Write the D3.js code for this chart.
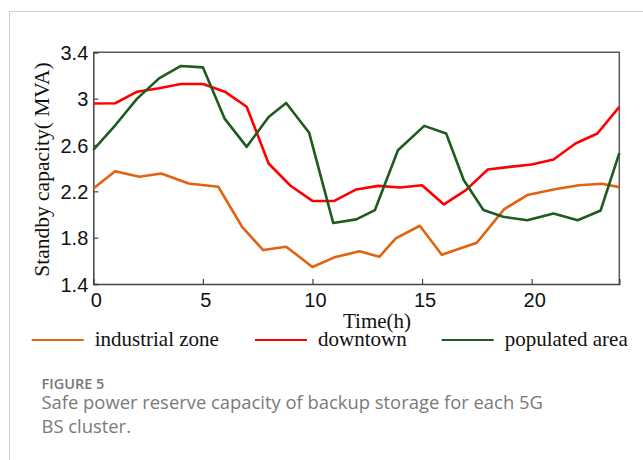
<!DOCTYPE html>
<html>
<head>
<meta charset="utf-8">
<script src="https://cdn.jsdelivr.net/npm/d3@7"></script>
<style>
  html, body { margin: 0; padding: 0; background: #fff; }
  svg { display: block; }
</style>
</head>
<body>
<svg id="chart" width="643" height="460"></svg>
<script>
// ---- data ----
const xTicks = [0, 5, 10, 15, 20];
const yTicks = [1.4, 1.8, 2.2, 2.6, 3.0, 3.4];
const yTickLabels = ["1.4", "1.8", "2.2", "2.6", "3", "3.4"];

const industrialHours  = [0, 1, 2.1, 3.1, 4.35, 5.7, 6.8, 7.75, 8.8, 10, 11, 12.15, 13.05, 13.8, 14.9, 15.9, 17.5, 18.75, 19.8, 21, 22.15, 23.2, 24];
const industrialValues = [2.225, 2.374, 2.325, 2.354, 2.268, 2.24, 1.89, 1.693, 1.722, 1.547, 1.63, 1.682, 1.635, 1.794, 1.903, 1.653, 1.756, 2.046, 2.168, 2.216, 2.253, 2.265, 2.236];

const downtownHours  = [0,1,2,3,4,5,6,7,8,9,10,11,12,13,14,15,16,17,18,19,20,21,22,23,24];
const downtownValues = [2.958, 2.96, 3.06, 3.09, 3.126, 3.126, 3.06, 2.93, 2.44, 2.248, 2.117, 2.117, 2.216, 2.247, 2.233, 2.253, 2.087, 2.21, 2.388, 2.411, 2.431, 2.475, 2.613, 2.699, 2.929];

const populatedHours  = [0, 1, 2, 3, 4, 5, 6, 7, 8, 8.8, 9.85, 10.95, 12, 12.85, 13.9, 15.1, 16.1, 16.9, 17.8, 18.7, 19.8, 21, 22.1, 23.15, 24];
const populatedValues = [2.558, 2.77, 3.0, 3.175, 3.282, 3.27, 2.825, 2.584, 2.842, 2.963, 2.705, 1.926, 1.958, 2.038, 2.555, 2.765, 2.699, 2.297, 2.038, 1.98, 1.95, 2.009, 1.95, 2.035, 2.53];

const seriesNames = ["industrial zone", "downtown", "populated area"];
const seriesColors = ["#E2620F", "#FF0000", "#1E5B1E"];

// ---- layout ----
const svg = d3.select("#chart");
const L = 93.3, R = 619.3, T = 52.3, B = 284;
const x = d3.scaleLinear().domain([0, 24]).range([L, R]);
const y = d3.scaleLinear().domain([1.4, 3.4]).range([B, T]);

// card border
svg.append("line").attr("x1", 9).attr("y1", 11.5).attr("x2", 643).attr("y2", 11.5)
  .attr("stroke", "#cfcfcf").attr("stroke-width", 1);
svg.append("line").attr("x1", 9.5).attr("y1", 11).attr("x2", 9.5).attr("y2", 460)
  .attr("stroke", "#cfcfcf").attr("stroke-width", 1);

// frame top/right
svg.append("path")
  .attr("d", `M${L},${T}H${R}V${B}`)
  .attr("fill", "none").attr("stroke", "#5a5a5a").attr("stroke-width", 1.5);

// axes
const xAxis = d3.axisBottom(x).tickValues(xTicks).tickSize(-5).tickPadding(9).tickFormat(d3.format("d"));
const yAxis = d3.axisLeft(y).tickValues(yTicks).tickSize(-5).tickPadding(5)
  .tickFormat((d, i) => yTickLabels[i]);

const gx = svg.append("g").attr("transform", `translate(0,${B})`).call(xAxis);
const gy = svg.append("g").attr("transform", `translate(${L},0)`).call(yAxis);
[gx, gy].forEach(g => {
  g.select(".domain").attr("stroke", "#444").attr("stroke-width", 1.5);
  g.selectAll(".tick line").attr("stroke", "#444").attr("stroke-width", 1.2);
  g.selectAll(".tick text").attr("fill", "#111")
    .style("font-family", "'Liberation Sans', Arial, sans-serif").style("font-size", "20px");
});
gx.selectAll(".tick text").attr("dx", 2.5);
gy.selectAll(".tick text").attr("dy", "0.36em");

// axis titles
svg.append("text").attr("x", 377).attr("y", 327.5)
  .attr("text-anchor", "middle")
  .style("font-family", "'Liberation Serif', 'Times New Roman', serif").style("font-size", "21px")
  .attr("fill", "#111").text("Time(h)");
svg.append("text").attr("transform", "translate(49,169.5) rotate(-90)")
  .attr("text-anchor", "middle")
  .style("font-family", "'Liberation Serif', 'Times New Roman', serif").style("font-size", "21.5px")
  .attr("fill", "#111").text("Standby capacity( MVA)");

// lines
const line = d3.line().x(d => x(d[0])).y(d => y(d[1]));
const series = [
  d3.zip(industrialHours, industrialValues),
  d3.zip(downtownHours, downtownValues),
  d3.zip(populatedHours, populatedValues)
];
series.forEach((s, i) => {
  svg.append("path").datum(s).attr("d", line)
    .attr("fill", "none").attr("stroke", seriesColors[i])
    .attr("stroke-width", 2.6).attr("stroke-linejoin", "round");
});

// legend
const legendX = [31.7, 255, 441.7];
const legendY = 340;
seriesNames.forEach((name, i) => {
  svg.append("line").attr("x1", legendX[i]).attr("x2", legendX[i] + 52)
    .attr("y1", legendY).attr("y2", legendY)
    .attr("stroke", seriesColors[i]).attr("stroke-width", 2.2);
  svg.append("text").attr("x", legendX[i] + 63).attr("y", 346)
    .style("font-family", "'Liberation Serif', 'Times New Roman', serif").style("font-size", "21px")
    .attr("fill", "#111").text(name);
});

// caption
svg.append("text").attr("x", 41.5).attr("y", 388.5)
  .style("font-family", "'Open Sans', 'Noto Sans', sans-serif").style("font-size", "14.5px")
  .style("font-weight", 600).attr("fill", "#777").text("FIGURE 5");
svg.append("text").attr("x", 41.5).attr("y", 409)
  .style("font-family", "'Open Sans', 'Noto Sans', sans-serif").style("font-size", "18.4px")
  .attr("fill", "#7a7a7a").text("Safe power reserve capacity of backup storage for each 5G");
svg.append("text").attr("x", 41.5).attr("y", 433)
  .style("font-family", "'Open Sans', 'Noto Sans', sans-serif").style("font-size", "18.4px")
  .attr("fill", "#7a7a7a").text("BS cluster.");
</script>
</body>
</html>
